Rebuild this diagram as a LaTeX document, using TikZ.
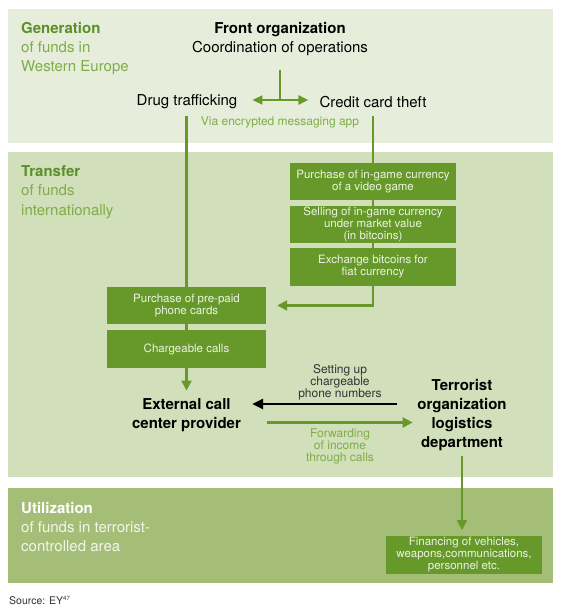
\documentclass[tikz,border=0pt]{standalone}
\usepackage{fontspec}
\setmainfont{TeX Gyre Heros}
\usetikzlibrary{arrows.meta,calc}
\definecolor{pone}{HTML}{E6EDDA}
\definecolor{ptwo}{HTML}{D1DFBB}
\definecolor{pthree}{HTML}{A4BE78}
\definecolor{boxg}{HTML}{66992A}
\definecolor{lineg}{HTML}{66992A}
\definecolor{boxtxt}{HTML}{EDF3E2}
\definecolor{titleg}{HTML}{5A8F29}
\definecolor{subg}{HTML}{7FAD48}
\definecolor{utilsub}{HTML}{F2F6EA}
\tikzset{
  maintxt/.style={font={\fontsize{15}{19.3}\selectfont}, align=center, inner sep=0pt, text=black},
  boldtxt/.style={font={\fontsize{15}{19.3}\selectfont\bfseries}, align=center, inner sep=0pt, text=black},
  sidetxt/.style={font={\fontsize{15}{19.3}\selectfont}, align=left, inner sep=0pt, anchor=west},
  smalltxt/.style={font={\fontsize{12}{12}\selectfont}, align=center, inner sep=0pt},
  gbox/.style={fill=boxg, text=boxtxt, font={\fontsize{11.5}{12}\selectfont}, align=center, inner sep=0pt, minimum width=166pt, minimum height=37.5pt},
  gline/.style={draw=lineg, line width=2.2pt},
  garrow/.style={gline, -{Triangle[length=10pt,width=10pt]}},
  gdouble/.style={gline, {Triangle[length=10pt,width=9pt]}-{Triangle[length=10pt,width=9pt]}},
  barrow/.style={draw=black, line width=2.6pt, -{Triangle[length=11pt,width=10pt]}}
}
\begin{document}
\begin{tikzpicture}[x=1pt,y=-1pt]
\useasboundingbox (0,0) rectangle (562,610);
% panels
\fill[pone] (7.5,9) rectangle (552.5,143);
\fill[ptwo] (7.5,152) rectangle (552.5,477);
\fill[pthree] (7.5,488) rectangle (552.5,583);

% side labels
\node[sidetxt, text=subg] (gen) at (21,48.5) {{\color{titleg}\bfseries Generation}\\of funds in\\Western Europe};
\node[sidetxt, text=subg] (trans) at (21,192) {{\color{titleg}\bfseries Transfer}\\of funds\\internationally};
\node[sidetxt, text=utilsub] (util) at (21,527) {{\color{white}\bfseries Utilization}\\of funds in terrorist-\\controlled area};

% top part
\node[maintxt] (front) at (280,39) {{\bfseries Front organization}\\Coordination of operations};
\coordinate (ftop) at (280,70);
\coordinate (junc) at (280,100);
\node[maintxt] (drug) at (187,102) {Drug trafficking};
\node[maintxt] (credit) at (373,102) {Credit card theft};
\node[smalltxt, text=subg] (via) at (280,122) {Via encrypted messaging app};
\draw[gline] (ftop) -- (junc);
\draw[gdouble, shorten <=15pt, shorten >=11pt] (drug.east |- junc) -- (credit.west |- junc);

% right chain
\node[gbox] (b1) at (373,181.5) {Purchase of in-game currency\\of a video game};
\node[gbox] (b2) at (373,224.5) {Selling of in-game currency\\under market value\\(in bitcoins)};
\node[gbox] (b3) at (373,267) {Exchange bitcoins for\\fiat currency};
\coordinate (ctop) at (373,116);
\draw[gline] (ctop) -- (b1.north);
\draw[gline] (b1.south) -- (b2.north);
\draw[gline] (b2.south) -- (b3.north);

% left chain
\node[gbox, minimum width=159pt] (prepaid) at (186.5,305.5) {Purchase of pre-paid\\phone cards};
\node[gbox, minimum width=159pt] (charge) at (186.5,349) {Chargeable calls};
\coordinate (dtop) at (186.5,116);
\draw[gline] (dtop) -- (prepaid.north);
\draw[gline] (prepaid.south) -- (charge.north);
\draw[garrow, shorten >=11pt] (b3.south) |- (prepaid.east);

% bottom of transfer
\node[boldtxt] (ext) at (186.5,415) {External call\\center provider};
\node[boldtxt] (terr) at (462,415) {Terrorist\\organization\\logistics\\department};
\draw[garrow, shorten >=7.5pt] (charge.south) -- (ext.north);
\draw[barrow, shorten <=20pt, shorten >=11pt] ([yshift=11pt]terr.west) -- ([yshift=11pt]ext.east);
\draw[garrow, shorten <=26pt, shorten >=4.5pt] ([yshift=-7.5pt]ext.east) -- ([yshift=-7.5pt]terr.west);
\node[smalltxt, text=black!80] (setup) at (340,382.5) {Setting up\\chargeable\\phone numbers};
\node[smalltxt, text=subg] (fwd) at (340,446.5) {Forwarding\\of income\\through calls};

% utilization
\node[gbox, minimum width=156pt] (fin) at (464,555) {Financing of vehicles,\\weapons,communications,\\personnel etc.};
\draw[garrow, shorten <=5pt, shorten >=6pt] (terr.south) -- (terr.south |- fin.north);

% source
\node[anchor=west, inner sep=0pt, font={\fontsize{10.5}{12}\selectfont}, text=black!80] (src) at (9,600) {Source: EY\textsuperscript{\fontsize{6}{6}\selectfont 47}};
\end{tikzpicture}
\end{document}
